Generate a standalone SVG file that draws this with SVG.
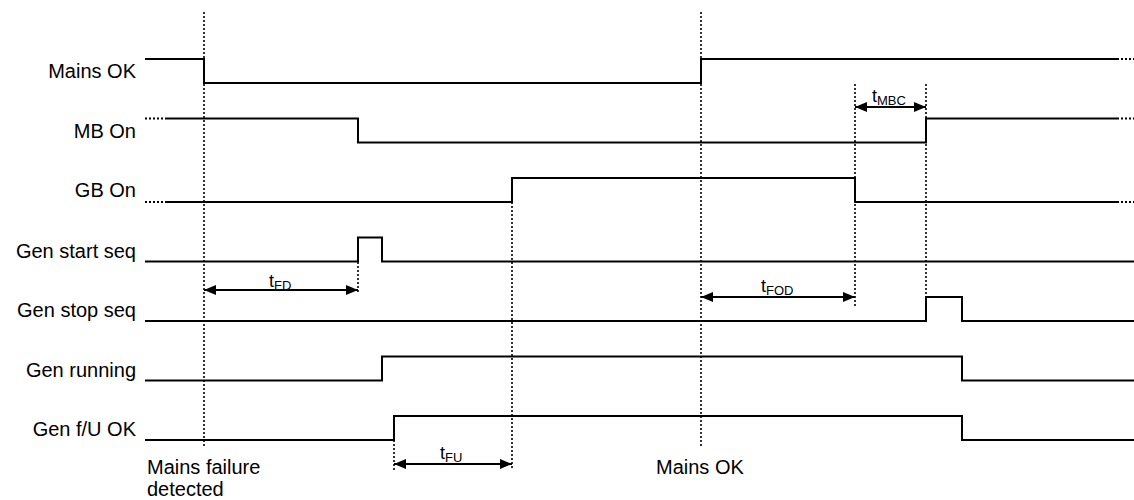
<svg xmlns="http://www.w3.org/2000/svg" width="1134" height="500" viewBox="0 0 1134 500">
<defs>
<style>
.sig{fill:none;stroke:#000;stroke-width:2;stroke-linejoin:miter}
.dotv{fill:none;stroke:#000;stroke-width:1.6;stroke-dasharray:2 2}
.doth{fill:none;stroke:#000;stroke-width:2;stroke-dasharray:2 2}
.arr{fill:none;stroke:#000;stroke-width:2;marker-start:url(#ah);marker-end:url(#ah)}
.lbl{font-family:"Liberation Sans",Arial,sans-serif;font-size:20px;fill:#000}
.lblr{font-family:"Liberation Sans",Arial,sans-serif;font-size:20px;fill:#000;text-anchor:end}
.tl{font-family:"Liberation Sans",Arial,sans-serif;font-size:18px;fill:#000}
.sub{font-size:13px}
</style>
<marker id="ah" markerUnits="userSpaceOnUse" markerWidth="12" markerHeight="12" refX="12" refY="6" orient="auto-start-reverse">
<path d="M0,1 L12,6 L0,11 z" fill="#000"/>
</marker>
</defs>
<rect width="1134" height="500" fill="#fff"/>

<g id="connectors">
<line class="dotv" x1="204" y1="12" x2="204" y2="446"/>
<line class="dotv" x1="701" y1="12" x2="701" y2="447"/>
<line class="dotv" x1="358" y1="262" x2="358" y2="292"/>
<line class="dotv" x1="394" y1="440" x2="394" y2="470"/>
<line class="dotv" x1="512" y1="202" x2="512" y2="470"/>
<line class="dotv" x1="855" y1="84" x2="855" y2="308"/>
<line class="dotv" x1="926" y1="84" x2="926" y2="297"/>
<line class="arr" x1="204" y1="290" x2="358" y2="290"/>
<line class="arr" x1="701" y1="297" x2="855" y2="297"/>
<line class="arr" x1="855" y1="107" x2="926" y2="107"/>
<line class="arr" x1="394" y1="464" x2="512" y2="464"/>
<text class="tl" x="269" y="287">t<tspan class="sub" dy="3">FD</tspan></text>
<text class="tl" x="761" y="292">t<tspan class="sub" dy="3">FOD</tspan></text>
<text class="tl" x="872" y="102">t<tspan class="sub" dy="3">MBC</tspan></text>
<text class="tl" x="440" y="459">t<tspan class="sub" dy="3">FU</tspan></text>
</g>

<g id="mains-ok">
<text class="lblr" x="136" y="78">Mains OK</text>
<path class="sig" d="M145,59 H204 V83 H701 V59 H1117"/>
<line class="doth" x1="1117" y1="59" x2="1134" y2="59"/>
</g>

<g id="mb-on">
<text class="lblr" x="136" y="137.5">MB On</text>
<line class="doth" x1="145" y1="118.5" x2="167" y2="118.5"/>
<path class="sig" d="M167,118.5 H358 V142.5 H926 V118.5 H1117"/>
<line class="doth" x1="1117" y1="118.5" x2="1134" y2="118.5"/>
</g>

<g id="gb-on">
<text class="lblr" x="136" y="197">GB On</text>
<line class="doth" x1="145" y1="202" x2="167" y2="202"/>
<path class="sig" d="M167,202 H512 V178 H855 V202 H1117"/>
<line class="doth" x1="1117" y1="202" x2="1134" y2="202"/>
</g>

<g id="gen-start-seq">
<text class="lblr" x="136" y="257.5">Gen start seq</text>
<path class="sig" d="M145,261.5 H358 V237.5 H382 V261.5 H1134"/>
</g>

<g id="gen-stop-seq">
<text class="lblr" x="136" y="317">Gen stop seq</text>
<path class="sig" d="M145,321 H926 V297 H962 V321 H1134"/>
</g>

<g id="gen-running">
<text class="lblr" x="136" y="376.5">Gen running</text>
<path class="sig" d="M145,380.5 H382 V356.5 H962 V380.5 H1134"/>
</g>

<g id="gen-fu-ok">
<text class="lblr" x="136" y="436">Gen f/U OK</text>
<path class="sig" d="M145,440 H394 V416 H962 V440 H1134"/>
</g>

<g id="event-mains-failure">
<text class="lbl" x="147" y="474">Mains failure</text>
<text class="lbl" x="147" y="496">detected</text>
</g>

<g id="event-mains-ok">
<text class="lbl" x="656" y="474">Mains OK</text>
</g>
</svg>
